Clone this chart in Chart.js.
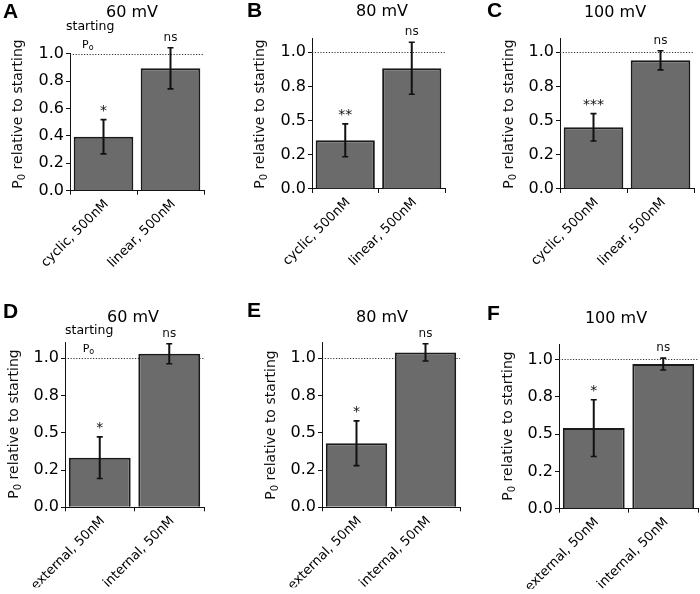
<!DOCTYPE html>
<html>
<head>
<meta charset="utf-8">
<script src="https://cdn.jsdelivr.net/npm/chart.js@4.4.1/dist/chart.umd.min.js"></script>
<style>
    html, body { margin: 0; padding: 0; background: #fff; }
    #wrap { position: relative; width: 700px; height: 594px; overflow: hidden; }
    #wrap canvas { position: absolute; left: 0; top: 0; }
</style>
</head>
<body>
<div id="wrap"></div>
<script>
// --- data ---
const panelLetters = ['A', 'B', 'C', 'D', 'E', 'F'];
const panelTitles = ['60 mV', '80 mV', '100 mV', '60 mV', '80 mV', '100 mV'];
const topCategories = ['cyclic, 500nM', 'linear, 500nM'];
const bottomCategories = ['external, 50nM', 'internal, 50nM'];
const firstBarMeans = [0.394, 0.356, 0.451, 0.333, 0.43, 0.54];
const firstBarErrors = [0.125, 0.12, 0.10, 0.14, 0.15, 0.19];
const secondBarMeans = [0.893, 0.883, 0.941, 1.031, 1.04, 0.969];
const secondBarErrors = [0.15, 0.19, 0.07, 0.067, 0.058, 0.04];
const firstBarSig = ['*', '**', '***', '*', '*', '*'];
const secondBarSig = ['ns', 'ns', 'ns', 'ns', 'ns', 'ns'];
const yMaxes = [1.0, 1.1, 1.1, 1.105, 1.105, 1.1];
const tickValuesA = [0, 0.2, 0.4, 0.6, 0.8, 1.0];
const tickLabelsA = ['0.0', '0.2', '0.4', '0.6', '0.8', '1.0'];
const tickValuesOther = [0, 0.25, 0.5, 0.75, 1.0];
const tickLabelsOther = ['0.0', '0.2', '0.5', '0.8', '1.0'];
const referenceLevel = 1.0;

// --- layout (page pixels) ---
const W = 700, H = 594;
const Y_AXIS_W = 50, X_AXIS_H = 80;
const areas = [
    { left: 70, right: 204, top: 53.7, bottom: 190.7 },
    { left: 312, right: 445, top: 38.6, bottom: 189 },
    { left: 560, right: 694, top: 38.6, bottom: 189 },
    { left: 65, right: 204, top: 342.7, bottom: 507.3 },
    { left: 322, right: 460, top: 342.7, bottom: 507.3 },
    { left: 559, right: 698, top: 344.5, bottom: 508.7 }
];
const letterPos = [[3, 18], [247, 17], [487, 17], [3, 318], [247, 317], [487, 320]];
const titlePos = [[132, 17], [382, 16], [615, 17], [133, 322], [382, 322], [616, 323]];
const yTitlePos = [[18, 114], [260, 114], [509, 114], [14, 424], [271, 425], [508, 426]];
const startingPos = { 0: [66, 30, 82, 47.7], 3: [65, 333.5, 82.7, 351.5] };

const FONT = '"DejaVu Sans", Verdana, sans-serif';
const barGrey = '#6b6b6b';
const ink = '#111';

function drawYTitle(ctx, cx, cy) {
    ctx.save();
    ctx.translate(cx, cy);
    ctx.rotate(-Math.PI / 2);
    ctx.fillStyle = ink;
    ctx.textBaseline = 'middle';
    ctx.textAlign = 'left';
    const big = '14px ' + FONT, small = '10px ' + FONT;
    const rest = ' relative to starting';
    ctx.font = big;
    const wP = ctx.measureText('P').width, wRest = ctx.measureText(rest).width;
    ctx.font = small;
    const w0 = ctx.measureText('0').width;
    let x = -(wP + w0 + wRest) / 2;
    ctx.font = big; ctx.fillText('P', x, 0); x += wP;
    ctx.font = small; ctx.fillText('0', x, 4); x += w0;
    ctx.font = big; ctx.fillText(rest, x, 0);
    ctx.restore();
}

function makeChart(i) {
    const canvas = document.createElement('canvas');
    canvas.width = W; canvas.height = H;
    document.getElementById('wrap').appendChild(canvas);
    const a = areas[i];
    const isA = i === 0;
    const tickValues = isA ? tickValuesA : tickValuesOther;
    const tickLabels = isA ? tickLabelsA : tickLabelsOther;
    const means = [firstBarMeans[i], secondBarMeans[i]];
    const errs = [firstBarErrors[i], secondBarErrors[i]];
    const sigs = [firstBarSig[i], secondBarSig[i]];

    const panelPlugin = {
        id: 'panel' + i,
        beforeDatasetsDraw(chart) {
            const { ctx, chartArea, scales } = chart;
            const y = scales.y.getPixelForValue(referenceLevel);
            ctx.save();
            ctx.strokeStyle = '#333';
            ctx.lineWidth = 1;
            ctx.setLineDash([1.2, 1.6]);
            ctx.beginPath();
            ctx.moveTo(chartArea.left, Math.round(y) + 0.5);
            ctx.lineTo(chartArea.right, Math.round(y) + 0.5);
            ctx.stroke();
            ctx.restore();
        },
        afterDatasetsDraw(chart) {
            const { ctx, scales } = chart;
            const meta = chart.getDatasetMeta(0);
            ctx.save();
            ctx.strokeStyle = ink;
            ctx.fillStyle = ink;
            meta.data.forEach((bar, k) => {
                const x = bar.x;
                const yTop = scales.y.getPixelForValue(means[k] + errs[k]);
                const yBot = scales.y.getPixelForValue(means[k] - errs[k]);
                ctx.lineWidth = 2;
                ctx.beginPath();
                ctx.moveTo(x, yTop); ctx.lineTo(x, yBot);
                ctx.stroke();
                ctx.lineWidth = 1.6;
                ctx.beginPath();
                ctx.moveTo(x - 3, yTop); ctx.lineTo(x + 3, yTop);
                ctx.moveTo(x - 3, yBot); ctx.lineTo(x + 3, yBot);
                ctx.stroke();
                const isNs = sigs[k] === 'ns';
                ctx.font = (isNs ? '12px ' : '14px ') + FONT;
                ctx.textAlign = 'center';
                ctx.textBaseline = 'alphabetic';
                ctx.fillText(sigs[k], x, yTop - (isNs ? 7 : 5));
            });
            ctx.restore();
        },
        afterDraw(chart) {
            const ctx = chart.ctx;
            ctx.save();
            ctx.fillStyle = '#000';
            ctx.textBaseline = 'alphabetic';
            ctx.textAlign = 'left';
            ctx.font = 'bold 21px "Liberation Sans", Arial, sans-serif';
            ctx.fillText(panelLetters[i], letterPos[i][0], letterPos[i][1]);
            ctx.textAlign = 'center';
            ctx.font = '16px ' + FONT;
            ctx.fillText(panelTitles[i], titlePos[i][0], titlePos[i][1]);
            if (startingPos[i]) {
                const p = startingPos[i];
                ctx.textAlign = 'left';
                ctx.font = '12.5px ' + FONT;
                ctx.fillText('starting', p[0], p[1]);
                ctx.font = '11px ' + FONT;
                ctx.fillText('P', p[2], p[3]);
                const wp = ctx.measureText('P').width;
                ctx.font = '8px ' + FONT;
                ctx.fillText('o', p[2] + wp, p[3] + 2.5);
            }
            ctx.restore();
            drawYTitle(ctx, yTitlePos[i][0], yTitlePos[i][1]);
        }
    };

    return new Chart(canvas.getContext('2d'), {
        type: 'bar',
        data: {
            labels: i < 3 ? topCategories : bottomCategories,
            datasets: [{
                data: means,
                backgroundColor: barGrey,
                borderColor: '#1a1a1a',
                borderWidth: 2,
                barPercentage: 0.89,
                categoryPercentage: 1.0
            }]
        },
        options: {
            responsive: false,
            animation: false,
            devicePixelRatio: 1,
            layout: {
                padding: {
                    left: a.left - Y_AXIS_W,
                    right: W - a.right,
                    top: a.top,
                    bottom: H - a.bottom - X_AXIS_H
                }
            },
            plugins: { legend: { display: false }, title: { display: false }, tooltip: { enabled: false } },
            scales: {
                x: {
                    offset: true,
                    afterFit: s => { s.height = X_AXIS_H; },
                    border: { display: true, color: ink, width: 1 },
                    grid: { offset: true, drawOnChartArea: false, tickLength: 4, color: ink },
                    ticks: { color: '#000', font: { family: FONT, size: 13 }, minRotation: 45, maxRotation: 45, padding: 2, labelOffset: 3 }
                },
                y: {
                    min: 0,
                    max: yMaxes[i],
                    afterFit: s => { s.width = Y_AXIS_W; },
                    afterBuildTicks: s => { s.ticks = tickValues.map(v => ({ value: v })); },
                    border: { display: true, color: ink, width: 1 },
                    grid: { drawOnChartArea: false, tickLength: 4, color: ink },
                    ticks: {
                        color: '#000',
                        font: { family: FONT, size: 16 },
                        padding: 2,
                        callback: (v, idx) => tickLabels[idx]
                    }
                }
            }
        },
        plugins: [panelPlugin]
    });
}

for (let i = 0; i < 6; i++) makeChart(i);
</script>
</body>
</html>
